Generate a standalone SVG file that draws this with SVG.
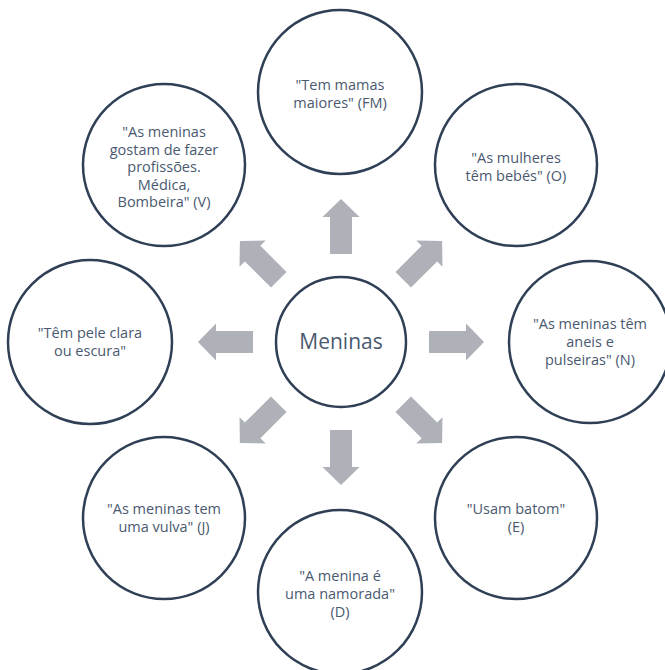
<svg xmlns="http://www.w3.org/2000/svg" width="665" height="670" viewBox="0 0 665 670">
  <style>
    .node circle { fill: #ffffff; stroke: #2F3F55; stroke-width: 2.5; }
    .node text { font-family: "Open Sans", "Liberation Sans", sans-serif; font-size: 14.5px; fill: #4A5970; text-anchor: middle; }
    #center text { font-size: 21px; }
    .arrow { fill: #AEB1B8; }
  </style>
  <defs>
    <path id="arr" d="M88,-11 H125 V-18.5 L143,0 L125,18.5 V11 H88 Z"/>
  </defs>
  <rect width="665" height="670" fill="#ffffff"/>
  <g id="connectors">
    <use href="#arr" class="arrow" transform="translate(341,342) rotate(-90)"/>
    <use href="#arr" class="arrow" transform="translate(341,342) rotate(-45)"/>
    <use href="#arr" class="arrow" transform="translate(341,342) rotate(0)"/>
    <use href="#arr" class="arrow" transform="translate(341,342) rotate(45)"/>
    <use href="#arr" class="arrow" transform="translate(341,342) rotate(90)"/>
    <use href="#arr" class="arrow" transform="translate(341,342) rotate(135)"/>
    <use href="#arr" class="arrow" transform="translate(341,342) rotate(180)"/>
    <use href="#arr" class="arrow" transform="translate(341,342) rotate(225)"/>
  </g>
  <g id="center" class="node">
    <circle cx="341" cy="342" r="65"/>
    <text x="341" y="349">Meninas</text>
  </g>
  <g id="n-fm" class="node">
    <circle cx="340" cy="92" r="82"/>
    <text x="340" y="89.5">"Tem mamas<tspan x="340" dy="18">maiores" (FM)</tspan></text>
  </g>
  <g id="n-o" class="node">
    <circle cx="516" cy="165" r="81"/>
    <text x="516" y="163">"As mulheres<tspan x="516" dy="18">têm bebés" (O)</tspan></text>
  </g>
  <g id="n-n" class="node">
    <circle cx="590" cy="342" r="81"/>
    <text x="590" y="329">"As meninas têm<tspan x="590" dy="18">aneis e</tspan><tspan x="590" dy="18">pulseiras" (N)</tspan></text>
  </g>
  <g id="n-e" class="node">
    <circle cx="516" cy="518" r="81"/>
    <text x="516" y="514">"Usam batom"<tspan x="516" dy="18">(E)</tspan></text>
  </g>
  <g id="n-d" class="node">
    <circle cx="340" cy="592" r="82"/>
    <text x="340" y="580.5">"A menina é<tspan x="340" dy="18">uma namorada"</tspan><tspan x="340" dy="18">(D)</tspan></text>
  </g>
  <g id="n-j" class="node">
    <circle cx="164" cy="518" r="81"/>
    <text x="164" y="514">"As meninas tem<tspan x="164" dy="18">uma vulva" (J)</tspan></text>
  </g>
  <g id="n-pele" class="node">
    <circle cx="90" cy="342" r="82"/>
    <text x="90" y="337.5">"Têm pele clara<tspan x="90" dy="18">ou escura"</tspan></text>
  </g>
  <g id="n-v" class="node">
    <circle cx="164" cy="165" r="81"/>
    <text x="164" y="137">"As meninas<tspan x="164" dy="17.5">gostam de fazer</tspan><tspan x="164" dy="17.5">profissões.</tspan><tspan x="164" dy="17.5">Médica,</tspan><tspan x="164" dy="17.5">Bombeira" (V)</tspan></text>
  </g>
</svg>
